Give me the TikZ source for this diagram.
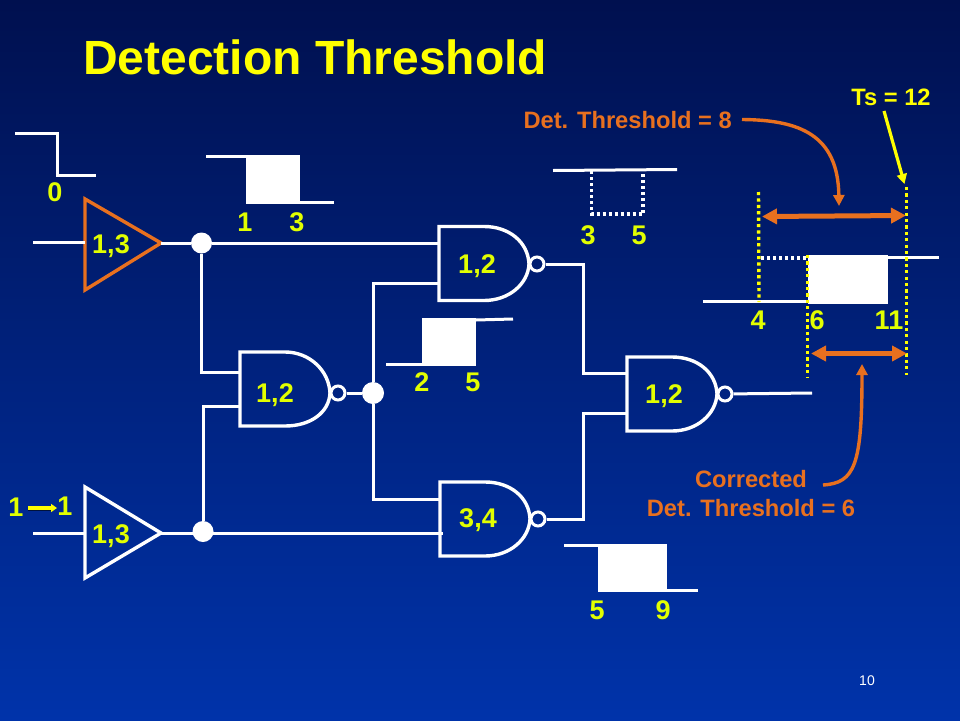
\documentclass[tikz,border=0pt]{standalone}
\usepackage{fontspec}
\setmainfont{Liberation Sans}
\usetikzlibrary{arrows.meta,calc}
\definecolor{bgtop}{HTML}{00104F}
\definecolor{bgbot}{HTML}{0033AA}
\definecolor{lab}{HTML}{E2FF00}
\definecolor{ttl}{HTML}{FFFF00}
\definecolor{org}{HTML}{E8701F}
\tikzset{
  x=1pt,y=-1pt,
  wire/.style={draw=white,line width=3pt,line join=miter},
  gatebody/.style={draw=white,line width=3.4pt,line join=miter},
  dotwire/.style={draw=white,line width=3.2pt,dash pattern=on 3pt off 3pt},
  ydot/.style={draw=ttl,line width=3.4pt,dash pattern=on 3.2pt off 3.2pt},
  pulse/.style={fill=white,draw=none},
  lbl/.style={text=lab,font=\fontsize{27}{27}\selectfont\bfseries,inner sep=0pt,text height=19.3pt,text depth=0pt},
  olbl/.style={text=org,font=\fontsize{23.7}{24}\selectfont\bfseries,inner sep=0pt,text height=17pt,text depth=0pt},
  bubble/.style={circle,draw=white,line width=3pt,minimum size=14pt,inner sep=0pt},
  junction/.style={circle,fill=white,minimum size=21pt,inner sep=0pt},
  bigarrow/.style={draw=org,line width=5pt,{Triangle[length=15pt,width=15pt]}-{Triangle[length=15pt,width=15pt]}},
  curvearrow/.style={draw=org,line width=3.4pt,-{Triangle[length=11pt,width=11pt]}},
}
% name, left x, body centre y, apex y, pin1 y, pin2 y, label x, label y, text
\newcommand{\nandgate}[9]{%
  \draw[gatebody] (#2,#3-37) -- (#2+45,#3-37) .. controls (#2+70,#3-37) and (#2+89,#4-22) .. (#2+90,#4)
    .. controls (#2+89,#4+20) and (#2+70,#3+37) .. (#2+45,#3+37) -- (#2,#3+37) -- cycle;
  \node[lbl] (#1t) at (#7,#8) {#9};
  \node[bubble] (#1b) at (#2+98,#4) {};
  \coordinate (#1a) at (#2,#5);
  \coordinate (#1c) at (#2,#6);
}
\begin{document}
\begin{tikzpicture}
\useasboundingbox (0,0) rectangle (960,720);
\shade[top color=bgtop,bottom color=bgbot] (0,0) rectangle (960,720);

\node[anchor=west,text=ttl,font=\fontsize{48}{48}\selectfont\bfseries,inner sep=0pt] (title) at (83,57) {Detection Threshold};

% Gates
\nandgate{ga}{439}{263.5}{264}{243}{283}{477}{264}{1,2}
\nandgate{gb}{240}{389}{393}{372}{406}{275}{393}{1,2}
\nandgate{gc}{440}{519}{519}{499}{533}{478}{518}{3,4}
\nandgate{gd}{627}{394}{394}{373}{413}{664}{394}{1,2}

% Buffers
\draw[draw=org,line width=3.4pt,line join=miter] (85,199) -- (161,243) -- (85,290) -- cycle;
\draw[gatebody] (85,487) -- (161,533) -- (85,578) -- cycle;
\coordinate (bufAin) at (85,242);
\coordinate (bufAout) at (161,243);
\coordinate (bufBin) at (85,533);
\coordinate (bufBout) at (161,533);
\coordinate (inA) at (33,242);
\coordinate (inB) at (33,533);
\node[lbl] (bufAt) at (111,244) {1,3};
\node[lbl] (bufBt) at (111,534) {1,3};

% Junctions
\node[junction] (jA) at (201.5,243) {};
\node[junction] (jB) at (203,531.5) {};
\node[junction,minimum width=22pt,minimum height=19pt] (jC) at (373,393) {};
\coordinate (gout) at (812,393);
\coordinate (jBe) at (443,533);
\coordinate (busA) at (583,300);
\coordinate (busB) at (583,480);

% Connectors
\draw[wire] (inA) -- (bufAin);
\draw[wire] (inB) -- (bufBin);
\draw[wire] (bufAout) -- (jA);
\draw[wire] (bufBout) -- (jB |- jBe);
\draw[wire] (jA) -- (gaa);
\draw[wire] (jB |- jBe) -- (jBe);
\draw[wire] (jA) |- (gba);
\draw[wire] (jB) |- (gbc);
\draw[wire] (gbb) -- (jC);
\draw[wire] (jC) |- (gac);
\draw[wire] (jC) |- (gca);
\draw[wire] (gab) -| (busA) |- (gda);
\draw[wire] (gcb) -| (busB) |- (gdc);
\draw[wire] (gdb) -- (gout);

% Waveforms
\draw[wire] (15,133) -- (57,133) -- (57,175) -- (96,175);
\draw[wire] (206,156) -- (246,156);
\fill[pulse] (246,155) rectangle (300,204);
\draw[wire] (300,202) -- (334,202);
\draw[wire] (386,364) -- (422,364);
\fill[pulse] (422,318) rectangle (476,366);
\draw[wire] (476,320) -- (513,319);
\draw[wire] (553,170.5) -- (677,169.5);
\draw[dotwire] (591.5,171) -- (591.5,214) -- (643,214) -- (643,171);
\draw[wire] (564,545) -- (598,545);
\fill[pulse] (598,544) rectangle (667,592);
\draw[wire] (667,590) -- (698,590);
\draw[wire] (703,301) -- (808,301);
\fill[pulse] (808,255) rectangle (888,304);
\draw[wire] (888,257) -- (939,257);
\draw[dotwire] (761,258) -- (808,258);

% Dotted guides
\draw[ydot] (758.5,192) -- (759,302);
\draw[ydot] (807.5,255) -- (807.5,377);
\draw[ydot] (906.5,187) -- (906.5,375);

% Orange arrows
\draw[bigarrow] (762,216.5) -- (906,215.5);
\draw[bigarrow] (811,353.5) -- (907,353.5);
\node[olbl,anchor=east] (detA) at (732,119.5) {Det. Threshold = 8};
\node[olbl] (corrA) at (751,479) {Corrected};
\node[olbl] (corrB) at (751,508) {Det. Threshold = 6};
\coordinate (arrA) at (839,206);
\coordinate (arrB) at (862,364);
\draw[curvearrow] (detA.east)++(10,0) .. controls (800,120) and (838,135) .. (arrA);
\draw[curvearrow] (823,485) .. controls (855,483) and (862,465) .. (arrB);

% Ts label
\node[font=\fontsize{23.7}{24}\selectfont\bfseries,text=ttl,inner sep=0pt,text height=17pt,text depth=0pt] (ts) at (891,96.5) {Ts = 12};
\coordinate (tsT) at (904.5,184);
\draw[draw=ttl,line width=3.2pt,-{Triangle[length=10pt,width=10pt]}] (884,111) -- (tsT);

% Numbers
\node[lbl] (n0) at (55,192) {0};
\node[lbl] (n1) at (245,222) {1};
\node[lbl] (n3) at (297,222) {3};
\node[lbl] (n2a) at (422,382) {2};
\node[lbl] (n5a) at (473,382) {5};
\node[lbl] (n3b) at (588,235) {3};
\node[lbl] (n5b) at (639,235) {5};
\node[lbl] (n5c) at (597,610) {5};
\node[lbl] (n9) at (663,610) {9};
\node[lbl] (n4) at (758,320) {4};
\node[lbl] (n6) at (817,320) {6};
\node[lbl] (n11) at (889,320) {11};
\node[lbl] (na) at (16,507) {1};
\node[lbl] (nb) at (65,506) {1};
\coordinate (shA) at (28,508);
\coordinate (shB) at (57,508);
\draw[draw=black!65!bgbot,line width=5pt] (shA) -- (54,508);
\draw[draw=ttl,line width=3.4pt,-{Triangle[length=6pt,width=8pt]}] (shA) -- (shB);

\node[text=white,font=\fontsize{14}{14}\selectfont,inner sep=0pt] (page) at (867,680.5) {10};
\end{tikzpicture}
\end{document}
